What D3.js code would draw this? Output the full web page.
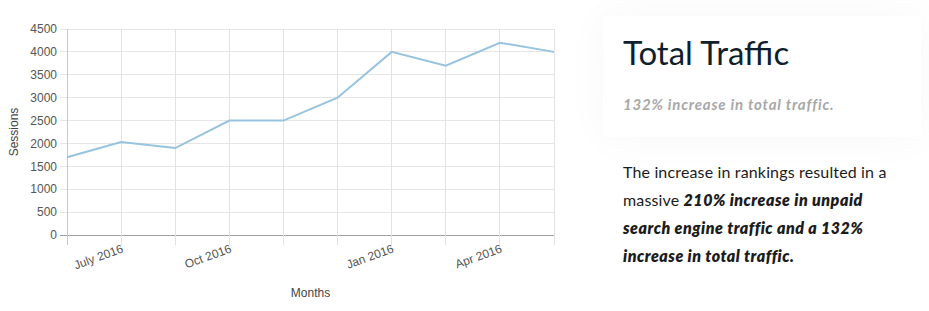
<!DOCTYPE html>
<html>
<head>
<meta charset="utf-8">
<script src="https://cdn.jsdelivr.net/npm/d3@7"></script>
<style>
  body { margin: 0; background: #fff; width: 929px; height: 311px; overflow: hidden; position: relative; }
  #chart { position: absolute; left: 0; top: 0; }
  .card {
    position: absolute; left: 603px; top: 16px; width: 318px; height: 121px;
    background: #fff; box-shadow: 0 0 45px rgba(0,0,0,0.035);
  }
  .title {
    position: absolute; left: 623px; top: 32px; font-family: Lato, "Noto Sans", sans-serif;
    font-size: 33px; color: #0f1f2c; font-weight: 400; white-space: nowrap;
  }
  .sub {
    position: absolute; left: 623px; top: 95px; font-family: Lato, "Noto Sans", sans-serif;
    font-size: 15px; color: #a8a8a8; font-weight: 700; font-style: italic; white-space: nowrap;
    letter-spacing: 0.8px;
  }
  .body {
    position: absolute; left: 623px; top: 158px; width: 268px; font-family: Lato, "Noto Sans", sans-serif;
    font-size: 16px; line-height: 28px; color: #1c1c1c; letter-spacing: 0.15px;
  }
  .body b { font-style: italic; font-weight: 800; letter-spacing: 0.5px; }
</style>
</head>
<body>
<svg id="chart" width="580" height="311"></svg>
<div class="card"></div>
<div class="title">Total Traffic</div>
<div class="sub">132% increase in total traffic.</div>
<div class="body">The increase in rankings resulted in a massive <b>210% increase in unpaid search engine traffic and a 132% increase in total traffic.</b></div>
<script>
// monthly sessions
const months = ["Jun 2016", "Jul 2016", "Aug 2016", "Sep 2016", "Oct 2016", "Nov 2016", "Dec 2016", "Jan 2017", "Feb 2017", "Mar 2017"];
const tickLabels = ["", "July 2016", "", "Oct 2016", "", "", "Jan 2016", "", "Apr 2016", ""];
const sessions = [1700, 2030, 1900, 2500, 2500, 3000, 4000, 3700, 4200, 4000];
const yTicks = [0, 500, 1000, 1500, 2000, 2500, 3000, 3500, 4000, 4500];

const margin = {top: 29, right: 26, bottom: 76, left: 67},
      width = 580 - margin.left - margin.right,
      height = 311 - margin.top - margin.bottom;

const svg = d3.select("#chart")
  .append("g")
    .attr("transform", "translate(" + margin.left + "," + margin.top + ")")
    .style("font-family", "'Helvetica Neue', Helvetica, 'Liberation Sans', Arial, sans-serif");

const x = d3.scalePoint().domain(months).range([0, width]);
const y = d3.scaleLinear().domain([0, 4500]).range([height, 0]);

// horizontal grid
svg.append("g")
  .selectAll("line")
  .data(yTicks)
  .enter().append("line")
    .attr("x1", -7).attr("x2", width)
    .attr("y1", d => y(d)).attr("y2", d => y(d))
    .attr("stroke", d => d == 0 ? "#a0a0a0" : "#e6e6e6")
    .attr("shape-rendering", "crispEdges");

// vertical grid
svg.append("g")
  .selectAll("line")
  .data(months)
  .enter().append("line")
    .attr("x1", d => x(d)).attr("x2", d => x(d))
    .attr("y1", 0).attr("y2", height + 10)
    .attr("stroke", (d, i) => i == 0 ? "#c8c8c8" : "#e2e2e2")
    .attr("shape-rendering", "crispEdges");

// y tick labels
svg.append("g")
  .selectAll("text")
  .data(yTicks)
  .enter().append("text")
    .attr("x", -10).attr("y", d => y(d))
    .attr("dy", "0.35em")
    .attr("text-anchor", "end")
    .attr("font-size", 12)
    .attr("fill", "#555")
    .text(d => d);

// x tick labels, rotated
svg.append("g")
  .selectAll("text")
  .data(months)
  .enter().append("text")
    .attr("transform", d => "translate(" + x(d) + "," + (height + 9) + ")rotate(-20)")
    .attr("text-anchor", "end")
    .attr("dy", "0.7em")
    .attr("font-size", 12)
    .attr("fill", "#555")
    .text((d, i) => tickLabels[i]);

// axis titles
svg.append("text")
  .attr("x", width / 2).attr("y", height + 62)
  .attr("text-anchor", "middle")
  .attr("font-size", 12).attr("fill", "#444")
  .text("Months");

svg.append("text")
  .attr("transform", "translate(-49," + (height / 2) + ")rotate(-90)")
  .attr("text-anchor", "middle")
  .attr("font-size", 12).attr("fill", "#444")
  .text("Sessions");

// line
const line = d3.line()
  .x((d, i) => x(months[i]))
  .y(d => y(d));

svg.append("path")
  .datum(sessions)
  .attr("fill", "none")
  .attr("stroke", "#97c3e0")
  .attr("stroke-width", 2)
  .attr("d", line);
</script>
</body>
</html>
